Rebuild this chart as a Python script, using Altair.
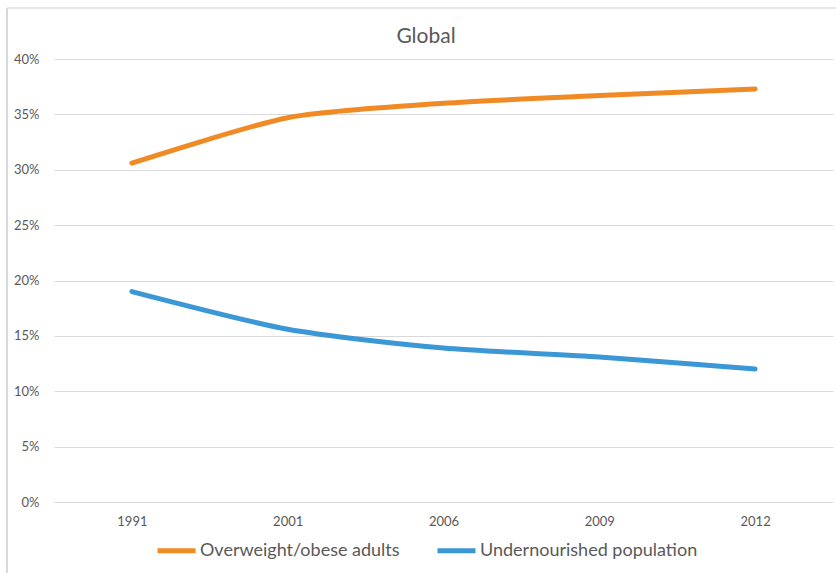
import altair as alt
import pandas as pd

# Share of global population, by survey year
years = ["1991", "2001", "2006", "2009", "2012"]
overweight = [30.6, 34.7, 36.0, 36.7, 37.3]
undernourished = [19.0, 15.6, 13.9, 13.1, 12.0]
series_names = ["Overweight/obese adults", "Undernourished population"]
series_colors = ["#F08A24", "#3B97D6"]
chart_title = ["Global"]

rows = []
for name, values in zip(series_names, [overweight, undernourished]):
    for yr, v in zip(years, values):
        rows.append({"Year": yr, "Series": name, "Share": v / 100})
df = pd.DataFrame(rows)

TEXT = "#595959"
FONT = "Lato"

lines = alt.Chart(df).mark_line(
    strokeWidth=5, interpolate="cardinal", tension=0.3, strokeCap="round"
).encode(
    x=alt.X(
        "Year:N",
        sort=years,
        scale=alt.Scale(paddingInner=0, paddingOuter=0.5),
        axis=alt.Axis(
            title=None, labelAngle=0, ticks=False, domain=False, grid=False,
            labelFontSize=13, labelColor=TEXT, labelFont=FONT, labelPadding=13,
        ),
    ),
    y=alt.Y(
        "Share:Q",
        scale=alt.Scale(domain=[0, 0.4]),
        axis=alt.Axis(
            title=None, format=".0%", values=[i / 100 for i in range(0, 41, 5)],
            ticks=False, domain=False, gridColor="#D9D9D9", gridWidth=1,
            labelFontSize=13, labelColor=TEXT, labelFont=FONT, labelPadding=15,
        ),
    ),
    color=alt.Color(
        "Series:N",
        sort=series_names,
        scale=alt.Scale(domain=series_names, range=series_colors),
        legend=alt.Legend(
            title=None, orient="none", direction="horizontal",
            legendX=101, legendY=470, symbolType="stroke",
            symbolSize=1444, symbolStrokeWidth=5, labelOffset=2,
            columnPadding=27, labelFontSize=18, labelColor=TEXT,
            labelFont=FONT, labelLimit=0, padding=0,
        ),
    ),
)

# Chart title, centred over the chart area
title = alt.Chart(pd.DataFrame({"t": chart_title})).mark_text(
    font=FONT, fontSize=21, color=TEXT, baseline="middle", align="center"
).encode(text="t:N", x=alt.value(372), y=alt.value(-22))

# Light chart-area frame along the left and top edges
frame_left = alt.Chart(df).mark_rule(color="#D9D9D9", strokeWidth=1.5).encode(
    x=alt.value(-47), y=alt.value(-51), y2=alt.value(520)
)
frame_top = alt.Chart(df).mark_rule(color="#E6E6E6", strokeWidth=1).encode(
    x=alt.value(-47), x2=alt.value(790), y=alt.value(-51)
)

chart = alt.layer(frame_left, frame_top, title, lines).properties(
    width=779,
    height=443,
    padding={"left": 54, "top": 59, "right": 3, "bottom": 71},
    autosize=alt.AutoSizeParams(type="none"),
).configure_view(stroke=None)

chart.save("out.html", embed_options={"renderer": "svg", "actions": False})
